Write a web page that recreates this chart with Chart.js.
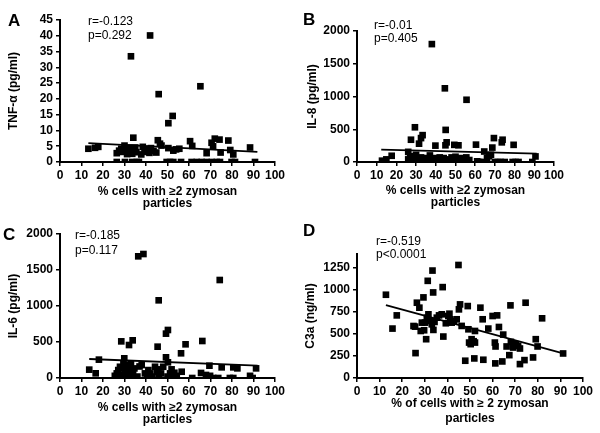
<!DOCTYPE html>
<html>
<head>
<meta charset="utf-8">
<script src="https://cdn.jsdelivr.net/npm/chart.js@4.4.1/dist/chart.umd.min.js"></script>
<style>
body { margin: 0; background: #fff; }
#wrap { position: relative; width: 600px; height: 433px; font-family: 'Liberation Sans', Arial, sans-serif; color: #000; }
canvas { position: absolute; }
.lbl { position: absolute; font-weight: bold; font-size: 17px; line-height: 18px; }
.stat { position: absolute; font-size: 12px; line-height: 14px; white-space: nowrap; }
</style>
</head>
<body>
<div id="wrap">
  <canvas id="chartA" width="300" height="216" style="left:0;top:0"></canvas>
  <canvas id="chartB" width="300" height="216" style="left:300px;top:0"></canvas>
  <canvas id="chartC" width="300" height="216" style="left:0;top:216px"></canvas>
  <canvas id="chartD" width="300" height="216" style="left:300px;top:216px"></canvas>

  <div class="lbl" style="left:8px;top:12px">A</div>
  <div class="lbl" style="left:303px;top:11px">B</div>
  <div class="lbl" style="left:3px;top:226px">C</div>
  <div class="lbl" style="left:303px;top:222px">D</div>

  <div class="stat" style="left:88px;top:14px">r=-0.123</div>
  <div class="stat" style="left:88px;top:28px">p=0.292</div>
  <div class="stat" style="left:374px;top:18px">r=-0.01</div>
  <div class="stat" style="left:374px;top:31px">p=0.405</div>
  <div class="stat" style="left:75px;top:228px">r=-0.185</div>
  <div class="stat" style="left:75px;top:243px">p=0.117</div>
  <div class="stat" style="left:376px;top:234px">r=-0.519</div>
  <div class="stat" style="left:376px;top:247px">p&lt;0.0001</div>
</div>

<script>
/* four scatter panels, % cells with >=2 zymosan particles vs. mediator */
var xTicks = [0, 10, 20, 30, 40, 50, 60, 70, 80, 90, 100];

// A: TNF-alpha
var tnfX = [41.9, 33, 45.9, 65.3, 50.4, 52.4, 34.1, 45.5, 60.5, 72, 74.2, 78.3, 70.5, 88.4, 13.2, 16.3, 17.8,
    26.4, 27.5, 28.5, 29.3, 30, 30.8, 31.2, 32, 32.6, 33.6, 34.4, 35, 35.5, 37.8, 38.5, 39.3, 40, 40.8, 41.6, 42.3, 43.5, 44.8,
    46.5, 47.2, 50.4, 52.7, 54, 55.5, 61.5, 68.2, 71.2, 74.7, 79.2, 80.6,
    26.4, 30.2, 33.6, 35.7, 36.7, 49.6, 51.2, 52.7, 56.3, 61.2, 63.6, 65.9, 68.2, 70.6, 72.9, 74.4, 79.8, 81.4, 90.7];
var tnfY = [40.1, 33.5, 21.5, 24, 12.3, 14.6, 7.7, 6.9, 6.6, 7.4, 7.1, 6.8, 6.1, 4.6, 4.2, 4.5, 4.8,
    2.8, 3.6, 4.2, 3.2, 5.2, 4.0, 2.5, 4.6, 3.4, 2.6, 3.8, 4.6, 3.1, 2.4, 4.8, 3.2, 4.2, 3.6, 2.9, 4.4, 3.5, 3.0,
    5.8, 5.2, 4.4, 3.6, 4.0, 4.2, 5.1, 2.8, 5.0, 3.0, 3.8, 2.4,
    0, 0, 0, 0, 0, 0, 0, 0, 0, 0, 0, 0, 0, 0, 0, 0, 0, 0, 0];
var tnfLineX = [13.2, 91.8];
var tnfLineY = [6.0, 3.2];
var tnfTicks = [0, 5, 10, 15, 20, 25, 30, 35, 40, 45];

// B: IL-8
var il8X = [38, 44.6, 55.6, 29.4, 27.4, 33.3, 32.5, 31.5, 39.8, 45, 45.5, 44.9, 49.4, 51.5, 60.4, 64.6, 68.7, 69.5, 73.9, 73.5,
    79.5, 90.6, 17.6, 14.9, 12.7, 26,
    26, 27, 28, 29, 30, 30.5, 31.5, 32.5, 33.5, 34.5, 35.5, 37, 38, 39, 40, 41, 42, 43, 44, 45.5, 47, 48, 49, 50, 51, 52, 53,
    54, 55.5, 57, 61, 62, 64, 66, 67, 68, 70, 71.5, 73, 75, 79, 80.5, 82, 89];
var il8Y = [1800, 1125, 950, 530, 340, 410, 365, 280, 250, 490, 300, 255, 262, 255, 265, 160, 220, 365, 340, 300,
    262, 85, 95, 40, 20, 155,
    40, 70, 20, 90, 110, 50, 20, 70, 30, 10, 60, 100, 30, 60, 20, 50, 70, 30, 60, 40, 20, 70, 30, 80, 50, 20, 60,
    40, 70, 30, 10, 0, 0, 60, 90, 110, 0, 0, 0, 0, 0, 0, 0, 0];
var il8LineX = [12.3, 91.2];
var il8LineY = [188, 127];
var il8Ticks = [0, 500, 1000, 1500, 2000];

// C: IL-6
var il6X = [36.4, 38.8, 74.3, 45.9, 50.2, 49.3, 28.5, 33.8, 32.1, 45.4, 58.4, 56.3, 66.2, 49.3, 29.9, 18.1, 13.6, 16.6, 50.2,
    69.5, 75.2, 80.6, 82.5, 91.2,
    61.5, 65.6, 67.9, 69.8, 71.3, 73.6, 79, 80.6, 88.4, 89.6,
    26.4, 27.1, 27.9, 28.4, 29.5, 29.9, 30.2, 30.7, 31.5, 32.1, 33, 33.6, 34.6, 38, 39.5, 41.1, 41.9, 44.2, 45, 45.7, 47, 48,
    51.2, 51.9, 53.2, 54.3, 56.6, 25.5, 28, 31, 32.5, 34, 36, 37, 40.5, 43, 46, 50, 52.5];
var il6Y = [1690, 1722, 1361, 1079, 667, 616, 509, 523, 458, 435, 468, 343, 514, 287, 273, 255, 116, 65, 218,
    171, 148, 148, 134, 134,
    0, 70, 42, 30, 0, 0, 0, 0, 30, 0,
    64, 110, 156, 41, 200, 133, 90, 64, 180, 110, 200, 41, 133, 180, 64, 110, 64, 156, 87, 120, 64, 156,
    64, 120, 73, 30, 87, 30, 0, 20, 20, 90, 20, 160, 30, 20, 20, 20, 0];
var il6LineX = [13.6, 91.9];
var il6LineY = [264, 171];
var il6Ticks = [0, 500, 1000, 1500, 2000];

// D: C3a
var c3aX = [12.8, 15.7, 17.6, 25.9, 25.7, 26.5, 27.6, 29.4, 31.3, 33.4, 33.7, 37.9, 44.9, 45.1, 45.6, 49, 54.6, 55.6, 60, 62,
    67.9, 74.6, 81.9, 79.1, 79.9, 91.2, 77.9, 47.9, 51.9, 55.9, 61.2, 64.3, 67.4, 72.1, 74.1, 30.6, 33.8, 38.2, 25, 28.2,
    29.7, 28.7, 30.1, 30.9, 31.6, 32.4, 33.1, 34.3, 35.3, 36.3, 37.5, 39.3, 40.4, 40.9, 41.2, 41.9, 42.9, 44.1, 46.3, 49.3,
    49.6, 50.3, 50.7, 51.6, 52.2, 52.2, 58.1, 61, 61.3, 62.8, 64.7, 66.2, 68.1, 69.1, 70.3, 72.1, 71.3];
var c3aY = [940, 558, 707, 281, 580, 850, 794, 910, 1097, 1213, 966, 1026, 1276, 775, 831, 812, 794, 663, 700, 707,
    820, 850, 674, 438, 356, 277, 232, 195, 221, 206, 165, 187, 258, 157, 202, 438, 543, 468, 587, 531,
    539, 625, 625, 681, 719, 644, 606, 633, 681, 707, 719, 618, 700, 726, 663, 625, 644, 663, 588, 550,
    400, 382, 438, 415, 531, 400, 558, 400, 356, 576, 490, 356, 408, 344, 382, 333, 363];
var c3aLineX = [12.8, 91.2];
var c3aLineY = [823, 277];
var c3aTicks = [0, 250, 500, 750, 1000, 1250];

var fontFamily = "'Liberation Sans', Arial, sans-serif";

function toPoints(xs, ys) { // pair the x and y arrays
    var pts = [];
    for (var i = 0; i < xs.length; i++) {
        pts.push({ x: xs[i], y: ys[i] });
    }
    return pts;
}

function plainLabel(v) { // no thousands separator
    return String(v);
}

function makePanel(id, xs, ys, lx, ly, yTicks, yMax, yTitle, xTitle, geo) {
    var ctx = document.getElementById(id);
    return new Chart(ctx, {
        type: 'scatter',
        data: {
            datasets: [{
                data: toPoints(xs, ys),
                pointStyle: 'rect',
                pointRadius: 4.7,
                pointHoverRadius: 4.7,
                borderWidth: 0,
                backgroundColor: '#000'
            }, {
                type: 'line',
                data: toPoints(lx, ly),
                borderColor: '#000',
                borderWidth: 1.8,
                pointRadius: 0,
                fill: false
            }]
        },
        options: {
            responsive: false,
            animation: false,
            layout: { padding: { left: 0, top: geo.top, right: 300 - geo.right, bottom: 0 } },
            plugins: { legend: { display: false }, tooltip: { enabled: false } },
            scales: {
                x: {
                    type: 'linear',
                    min: 0,
                    max: 100,
                    afterBuildTicks: function (s) { s.ticks = xTicks.map(function (v) { return { value: v }; }); },
                    afterFit: function (s) { s.height = 216 - 162; },
                    border: { color: '#000', width: 2 },
                    grid: { drawOnChartArea: false, color: '#000', lineWidth: 1.5, tickLength: 4 },
                    ticks: { color: '#000', padding: 2, maxRotation: 0, autoSkip: false, callback: plainLabel,
                        font: { family: fontFamily, size: 12, weight: 'bold' } },
                    title: {
                        display: true,
                        text: xTitle,
                        color: '#000',
                        padding: { top: 0, bottom: geo.xPad },
                        font: { family: fontFamily, size: 12, weight: 'bold', lineHeight: geo.xLine + 'px' }
                    }
                },
                y: {
                    min: 0,
                    max: yMax,
                    afterBuildTicks: function (s) { s.ticks = yTicks.map(function (v) { return { value: v }; }); },
                    afterFit: function (s) { s.width = geo.left; },
                    border: { color: '#000', width: 2 },
                    grid: { drawOnChartArea: false, color: '#000', lineWidth: 1.5, tickLength: 4 },
                    ticks: { color: '#000', padding: 3, autoSkip: false, callback: plainLabel,
                        font: { family: fontFamily, size: 12, weight: 'bold' } },
                    title: {
                        display: true,
                        text: yTitle,
                        color: '#000',
                        padding: { top: geo.yPad, bottom: 0 },
                        font: { family: fontFamily, size: 12, weight: 'bold', lineHeight: '12px' }
                    }
                }
            }
        }
    });
}

makePanel('chartA', tnfX, tnfY, tnfLineX, tnfLineY, tnfTicks, 45, 'TNF-\u03b1 (pg/ml)',
    ['% cells with \u22652 zymosan', 'particles'], { left: 60, right: 275, top: 20, yPad: 8, xPad: 6, xLine: 12 });
makePanel('chartB', il8X, il8Y, il8LineX, il8LineY, il8Ticks, 2000, 'IL-8 (pg/ml)',
    ['% cells with \u22652 zymosan', 'particles'], { left: 57, right: 254, top: 31, yPad: 7, xPad: 7, xLine: 12 });
makePanel('chartC', il6X, il6Y, il6LineX, il6LineY, il6Ticks, 2000, 'IL-6 (pg/ml)',
    ['% cells with \u22652 zymosan', 'particles'], { left: 60, right: 275, top: 18, yPad: 8, xPad: 6, xLine: 12 });
makePanel('chartD', c3aX, c3aY, c3aLineX, c3aLineY, c3aTicks, 1400, 'C3a (ng/ml)',
    ['% of cells with \u2265 2 zymosan', 'particles'], { left: 57, right: 283, top: 38, yPad: 5, xPad: 6, xLine: 15 });
</script>
</body>
</html>
